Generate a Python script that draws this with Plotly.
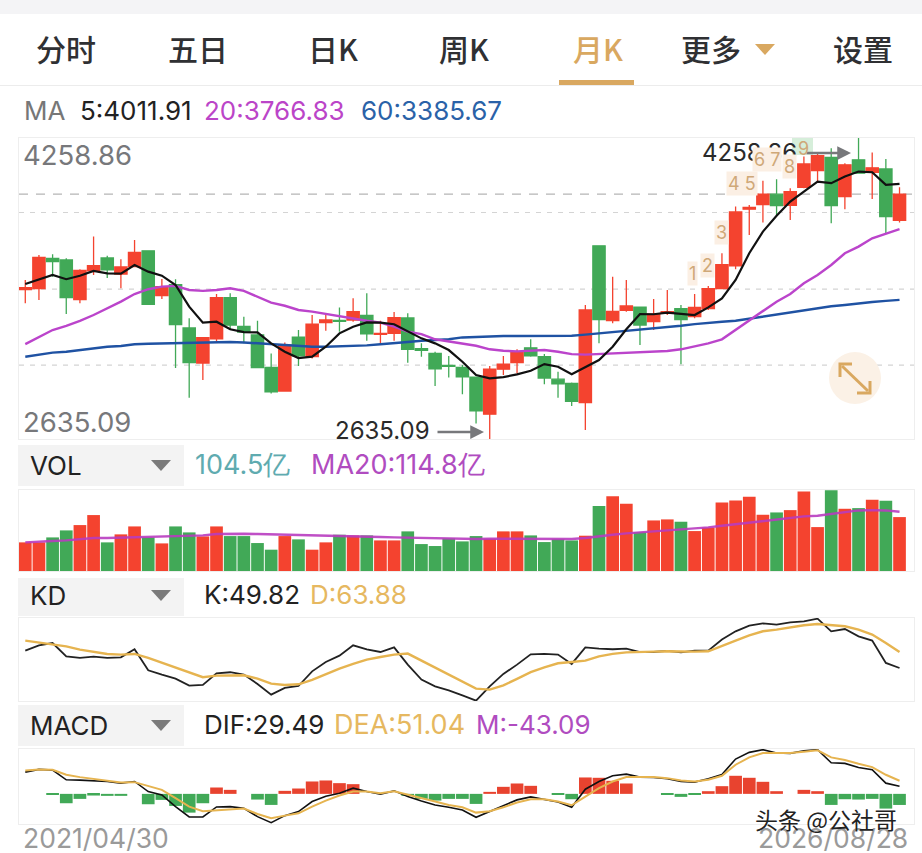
import pandas as pd
import plotly.graph_objs as go
from plotly.subplots import make_subplots

W, H = 922, 853

months = [str(p) for p in pd.period_range("2021-04", "2026-08", freq="M")]

opens = [3441, 3446, 3610, 3601, 3387, 3542, 3612, 3525, 3565, 3650, 3408, 3468, 3234, 3045, 3176, 3398, 3243, 3196, 3021, 2894, 3185, 3079, 3263, 3275, 3277, 3302, 3200, 3205, 3288, 3122, 3097, 3032, 3021, 2969, 2769, 3012, 3047, 3127, 3079, 2958, 2935, 2831, 3677, 3274, 3329, 3347, 3268, 3317, 3338, 3295, 3338, 3446, 3569, 3875, 3900, 3956, 3896, 3993, 4083, 4154, 3943, 4141, 4073, 4092, 3815]
highs = [3493, 3628, 3632, 3610, 3551, 3727, 3623, 3605, 3709, 3650, 3498, 3497, 3286, 3182, 3417, 3421, 3295, 3273, 3097, 3156, 3223, 3304, 3308, 3344, 3394, 3421, 3273, 3320, 3313, 3151, 3106, 3083, 3034, 2969, 3029, 3083, 3119, 3173, 3093, 2998, 2940, 3358, 3677, 3511, 3493, 3347, 3390, 3439, 3358, 3417, 3461, 3637, 3889, 3898, 4028, 4037, 3988, 4159, 4177, 4204, 4123, 4258.86, 4181, 4146, 3993]
lows = [3367, 3385, 3511, 3309, 3367, 3520, 3504, 3448, 3561, 3362, 3390, 3018, 2858, 2953, 3160, 3223, 3151, 3020, 2881, 2894, 3029, 3070, 3219, 3214, 3268, 3165, 3147, 3165, 3047, 3079, 2921, 2967, 2877, 2719, 2635.09, 2980, 2989, 3079, 2930, 2858, 2813, 2683, 3151, 3259, 3322, 3142, 3223, 3304, 3039, 3286, 3331, 3443, 3551, 3736, 3803, 3844, 3817, 3988, 4024, 3799, 3875, 4069, 3930, 3745, 3803]
closes = [3452, 3615, 3592, 3398, 3545, 3570, 3547, 3563, 3642, 3362, 3457, 3252, 3047, 3182, 3398, 3250, 3212, 3020, 2890, 3142, 3084, 3255, 3277, 3270, 3322, 3203, 3205, 3290, 3119, 3113, 3014, 3027, 2971, 2787, 3012, 3039, 3106, 3084, 2964, 2933, 2838, 3331, 3279, 3324, 3353, 3250, 3308, 3322, 3279, 3345, 3446, 3576, 3860, 3885, 3956, 3894, 3970, 4119, 4163, 3894, 4114, 4069, 4098, 3835, 3956]

ma5 = [3471, 3497, 3520, 3497, 3516, 3542, 3529, 3527, 3574, 3538, 3516, 3466, 3349, 3263, 3268, 3227, 3212, 3210, 3151, 3106, 3072, 3079, 3133, 3205, 3241, 3264, 3263, 3254, 3214, 3178, 3151, 3115, 3052, 2980, 2962, 2969, 2984, 3003, 3039, 3025, 2985, 3025, 3061, 3133, 3227, 3309, 3308, 3317, 3311, 3304, 3345, 3394, 3493, 3637, 3754, 3839, 3916, 3970, 4024, 4015, 4051, 4078, 4074, 4006, 4011.91]
ma20 = [3147, 3187, 3223, 3245, 3272, 3304, 3340, 3376, 3417, 3443, 3457, 3461, 3439, 3434, 3439, 3448, 3434, 3403, 3371, 3354, 3331, 3322, 3309, 3300, 3286, 3273, 3263, 3241, 3214, 3201, 3173, 3160, 3151, 3138, 3119, 3111, 3108, 3111, 3115, 3106, 3093, 3090, 3093, 3097, 3101, 3102, 3106, 3110, 3119, 3133, 3151, 3173, 3223, 3277, 3326, 3376, 3417, 3475, 3520, 3574, 3637, 3673, 3718, 3741, 3766.83]
ma60 = [3079, 3092, 3101, 3106, 3115, 3124, 3133, 3137, 3146, 3149, 3151, 3153, 3155, 3156, 3158, 3158, 3156, 3151, 3146, 3140, 3137, 3133, 3133, 3135, 3137, 3140, 3146, 3151, 3158, 3165, 3169, 3173, 3183, 3187, 3191, 3191, 3191, 3192, 3194, 3192, 3192, 3198, 3205, 3212, 3218, 3223, 3230, 3237, 3246, 3255, 3263, 3268, 3273, 3284, 3297, 3308, 3318, 3329, 3340, 3351, 3358, 3367, 3374, 3380, 3385.67]
grid_dashed = [3956]
grid_dotted = [3857, 3444, 3034]

volume = [55.5, 55.5, 65.1, 78.7, 89.0, 108.4, 55.5, 71.0, 86.4, 65.1, 53.5, 86.4, 74.8, 67.1, 86.4, 67.7, 67.7, 54.2, 41.3, 67.7, 61.3, 41.3, 55.5, 70.3, 69.0, 69.0, 59.3, 59.3, 76.8, 52.2, 48.4, 63.2, 57.4, 67.7, 62.6, 76.8, 76.8, 69.0, 56.1, 61.9, 59.3, 68.4, 125.8, 145.1, 130.3, 75.5, 98.0, 100.0, 95.5, 77.4, 83.9, 132.9, 136.7, 143.8, 109.0, 113.5, 118.0, 154.2, 85.1, 156.7, 120.6, 121.9, 138.0, 136.1, 104.5]
vol_ma20 = [55.5, 56.1, 58.1, 59.3, 61.9, 63.9, 63.9, 64.5, 65.8, 67.1, 67.1, 67.7, 67.7, 69.0, 71.6, 72.2, 72.2, 71.6, 71.0, 70.3, 70.3, 69.7, 69.0, 69.0, 68.4, 67.1, 65.8, 65.1, 64.5, 63.9, 62.6, 61.9, 61.3, 61.9, 62.6, 62.6, 62.6, 61.9, 61.3, 61.3, 61.9, 63.9, 67.7, 70.3, 72.9, 74.8, 76.1, 77.4, 79.3, 81.3, 84.5, 87.7, 90.9, 94.2, 96.1, 99.3, 103.2, 105.8, 107.1, 110.9, 114.8, 117.4, 118.0, 117.4, 114.8]

k_line = [65.1, 69.8, 71.8, 60.1, 58.7, 59.8, 58.7, 59.2, 66.3, 47.8, 44.0, 40.5, 34.3, 34.9, 45.2, 46.1, 44.0, 35.8, 26.4, 32.3, 34.0, 46.9, 55.1, 60.7, 69.8, 66.3, 63.9, 68.0, 52.8, 39.6, 33.7, 30.2, 25.8, 21.1, 33.7, 44.6, 52.8, 61.9, 62.2, 61.6, 53.4, 68.0, 66.9, 66.3, 66.9, 63.9, 63.9, 64.8, 63.6, 65.1, 65.1, 74.8, 82.1, 87.1, 89.1, 88.0, 90.0, 90.9, 93.2, 82.1, 84.1, 77.7, 73.9, 54.3, 49.82]
d_line = [73.9, 72.4, 71.0, 68.9, 66.0, 63.9, 62.2, 61.6, 62.2, 58.7, 54.3, 49.9, 45.5, 41.7, 43.1, 43.4, 43.4, 40.5, 36.1, 34.9, 35.5, 39.3, 44.6, 49.3, 53.4, 57.2, 59.5, 61.6, 62.5, 56.3, 49.9, 44.0, 37.6, 31.7, 30.8, 34.6, 40.2, 46.1, 50.4, 54.0, 55.1, 56.3, 60.1, 62.2, 63.6, 64.2, 64.2, 64.5, 64.2, 64.2, 64.5, 68.9, 73.9, 78.6, 82.1, 83.6, 85.6, 87.4, 88.5, 87.4, 86.5, 83.6, 79.2, 71.8, 63.88]

dif = [84.5, 94.9, 92.3, 54.6, 53.3, 50.7, 48.1, 41.6, 48.1, 9.1, -3.9, -49.4, -89.7, -89.7, -50.7, -49.4, -55.9, -88.4, -111.8, -84.5, -68.9, -29.9, -9.1, 2.6, 22.1, 9.1, -1.3, 11.7, -10.4, -27.3, -42.9, -52, -62.4, -91, -68.9, -46.8, -23.4, -11.7, -20.8, -31.2, -52, 18.2, 48.1, 70.2, 76.7, 65, 63.7, 58.5, 48.1, 45.5, 58.5, 75.4, 135.2, 161.2, 171.6, 158.6, 157.3, 167.7, 171.6, 120.9, 118.3, 102.7, 93.6, 41.6, 29.49]
dea = [91, 94.9, 93.6, 74.1, 65, 57.2, 49.4, 44.2, 45.5, 31.2, 15.6, -16.9, -49.4, -67.6, -65, -59.8, -57.2, -78, -94.9, -84.5, -75.4, -49.4, -26, -6.5, 9.1, 9.1, 2.6, 10.4, -3.9, -15.6, -29.9, -42.9, -52, -72.8, -67.6, -52, -33.8, -20.8, -20.8, -29.9, -44.2, -10.4, 22.1, 48.1, 65, 65, 65, 61.1, 52, 48.1, 54.6, 70.2, 113.1, 141.7, 158.6, 158.6, 158.6, 163.8, 169, 141.7, 131.3, 117, 104, 74.1, 51.04]
macd_m = [0, 0, -1.5, -36.4, -19.5, -6.5, -7.8, -7.8, 0, -40.3, -23.4, -46.8, -72.8, -36.4, 24.7, 15.6, 0, -22.1, -42.9, 11.7, 20.8, 48.1, 52, 41.6, 37.7, 0, 0, 0, -7.8, -19.5, -26, -19.5, -19.5, -39, 7.8, 27.3, 40.3, 31.2, 0, -3.9, -20.8, 63.7, 62.4, 50.7, 40.3, 0, 0, -1.5, -11.7, -3.9, 10.4, 29.9, 70.2, 62.4, 46.8, 10.4, 0, 15.6, 10.4, -42.9, -20.8, -22.1, -19.5, -57.2, -43.09]

tabs = ["分时", "五日", "日K", "周K", "月K", "更多", "设置"]

RED = "#f4432f"
GREEN = "#41a957"
PURPLE = "#bb44cb"
BLUE = "#1f52a3"
GOLD = "#e6b450"
TAN = "#d9a860"
CJK = "Noto Sans CJK SC"
NUM = "Inter"


def px(x):
    return x / W


def py(y):
    return 1 - y / H


def label(text, x, y, color, size=26, anchor="left", family=NUM, weight=400, **kw):
    # annotations carry about 2px of padding, take it back out
    nudge = {"left": -2, "right": 2, "center": 0}[anchor]
    fig.add_annotation(text=text, xref="paper", yref="paper", x=px(x + nudge), y=py(y - 1), xanchor=anchor,
                       yanchor="middle", showarrow=False,
                       font=dict(color=color, size=size, family=family, weight=weight), **kw)


def box(x0, y0, x1, y1, fill, kind="rect"):
    fig.add_shape(type=kind, xref="paper", yref="paper", x0=px(x0), x1=px(x1), y0=py(y0), y1=py(y1),
                  fillcolor=fill, line_width=0, layer="below")


def outline(points, color, width=0, fill=None):
    path = "M " + " L ".join(f"{px(a):.5f} {py(b):.5f}" for a, b in points)
    if fill:
        path += " Z"
    fig.add_shape(type="path", xref="paper", yref="paper", path=path, fillcolor=fill,
                  line=dict(color=color, width=width))


def triangle(cx, cy, color):
    outline([(cx - 10, cy - 5), (cx + 10, cy - 5), (cx, cy + 6)], color, fill=color)


def pointer(x_from, x_to, y):
    fig.add_annotation(text="", xref="paper", yref="paper", x=px(x_to), y=py(y), ax=x_from - x_to, ay=0,
                       showarrow=True, arrowhead=2, arrowsize=1.1, arrowwidth=2.5, arrowcolor="#77787b")


fig = make_subplots(rows=4, cols=1)

fig.add_trace(go.Candlestick(x=months, open=opens, high=highs, low=lows, close=closes, whiskerwidth=0,
                             increasing=dict(line=dict(color=RED, width=1.3), fillcolor=RED),
                             decreasing=dict(line=dict(color=GREEN, width=1.3), fillcolor=GREEN)), row=1, col=1)
fig.add_trace(go.Scatter(x=months, y=ma60, mode="lines", line=dict(color=BLUE, width=2.4)), row=1, col=1)
fig.add_trace(go.Scatter(x=months, y=ma20, mode="lines", line=dict(color=PURPLE, width=2.4)), row=1, col=1)
fig.add_trace(go.Scatter(x=months, y=ma5, mode="lines", line=dict(color="#111111", width=2.2)), row=1, col=1)

vol_colors = [RED if c >= o else GREEN for o, c in zip(opens, closes)]
fig.add_trace(go.Bar(x=months, y=volume, marker=dict(color=vol_colors, line_width=0)), row=2, col=1)
fig.add_trace(go.Scatter(x=months, y=vol_ma20, mode="lines", line=dict(color="#b93cc0", width=2.4), opacity=0.9), row=2, col=1)

fig.add_trace(go.Scatter(x=months, y=k_line, mode="lines", line=dict(color="#222222", width=1.8)), row=3, col=1)
fig.add_trace(go.Scatter(x=months, y=d_line, mode="lines", line=dict(color=GOLD, width=2.4)), row=3, col=1)

m_colors = ["#e8432f" if v > 0 else GREEN for v in macd_m]
fig.add_trace(go.Bar(x=months, y=macd_m, marker=dict(color=m_colors, line_width=0)), row=4, col=1)
fig.add_trace(go.Scatter(x=months, y=dif, mode="lines", line=dict(color="#111111", width=1.6)), row=4, col=1)
fig.add_trace(go.Scatter(x=months, y=dea, mode="lines", line=dict(color=GOLD, width=2)), row=4, col=1)

for level in grid_dashed:
    fig.add_hline(y=level, row=1, col=1, layer="below", line=dict(color="#b5b5b5", width=1.2, dash="9px,8px"))
for level in grid_dotted:
    fig.add_hline(y=level, row=1, col=1, layer="below", line=dict(color="#d4d4d4", width=1.2, dash="5px,6px"))

panels = {1: (138, 439, [2635.09, 4258.86]),
          2: (490, 571, [0, 157]),
          3: (618, 701, [20.8, 93.8]),
          4: (749, 824, [-117, 174.2])}
for row, (top, bottom, y_range) in panels.items():
    fig.update_xaxes(domain=[px(19), px(914)], range=[-0.46, 65.06], visible=True, showticklabels=False,
                     showgrid=False, zeroline=False, ticks="", rangeslider_visible=False, showline=True,
                     mirror=True, linecolor="#eeeeee", linewidth=1, type="category", row=row, col=1)
    fig.update_yaxes(domain=[py(bottom), py(top)], range=y_range, showticklabels=False, showgrid=False,
                     zeroline=False, ticks="", showline=True, mirror=True, linecolor="#eeeeee", linewidth=1,
                     row=row, col=1)

# app chrome around the chart
box(0, 0, W, 14, "#f4f4f6")
box(0, 85, W, 86, "#ececec")
box(559, 80, 634, 85, TAN)
tab_x = [66, 198, 333, 464, 598, 711, 863]
for name, x in zip(tabs, tab_x):
    label(name, x, 49, TAN if name == "月K" else "#2f3033", size=30, anchor="center", family=CJK, weight=500)
triangle(765, 49, TAN)

label("MA", 24, 111, "#777777")
label("5:4011.91", 80, 111, "#222222")
label("20:3766.83", 204, 111, "#bb45c8")
label("60:3385.67", 361, 111, "#2a62a8")

label("4258.86", 23, 156, "#77787b", size=27.5)
label("2635.09", 23, 423, "#77787b", size=27.5)
label("2635.09", 335, 431, "#2a2a2a", size=24)
pointer(436, 484, 432)
label("4258.86", 702, 153, "#2a2a2a", size=24)
pointer(805, 851, 153)

# demark counters on the candles
box(792, 137, 813, 155, "#d6eeda")
for text, x, y in [("1", 692, 274), ("2", 707, 266), ("3", 721, 233), ("4 5", 742, 184), ("6 7", 767, 160), ("8", 789, 168), ("9", 803, 150)]:
    label(text, x, y, "#cfa878", size=18, anchor="center", bgcolor="#fbefe4" if text != "9" else None)

# expand button
box(829, 352, 881, 404, "#fbf1e6", kind="circle")
outline([(840, 377), (840, 364), (852, 364)], TAN, width=3)
outline([(842, 366), (868, 391)], TAN, width=3)
outline([(857, 393), (870, 393), (870, 381)], TAN, width=3)

for top, bottom, name, cy in [(445, 486, "VOL", 466), (578, 616, "KD", 596), (705, 746, "MACD", 726)]:
    box(18, top, 184, bottom, "#f3f3f3")
    label(name, 30, cy, "#222222")
    triangle(161, cy - 1, "#7a7a7a")

label("104.5亿", 195, 465, "#5fabb0", size=27)
label("MA20:114.8亿", 311, 465, "#b04cc0", size=27)
label("K:49.82", 204, 595, "#222222")
label("D:63.88", 310, 595, "#e6b860")
label("DIF:29.49", 204, 725, "#222222")
label("DEA:51.04", 334, 725, "#e6b860", size=27)
label("M:-43.09", 476, 725, "#b04cc0")

label("2021/04/30", 23, 839, "#9a9a9a", size=26.5)
label("2026/08/28", 908, 839, "#9a9a9a", size=26.5, anchor="right")
label("头条 @公社哥", 755, 820, "#222222", size=23, family=CJK)

fig.update_layout(width=W, height=H, autosize=False, margin=dict(l=0, r=0, t=0, b=0), showlegend=False,
                  paper_bgcolor="white", plot_bgcolor="white", bargap=0.07, boxgap=0.1, boxgroupgap=0)

fig.write_html("out.html", config={"displayModeBar": False}, post_script="document.body.style.margin='0';")
